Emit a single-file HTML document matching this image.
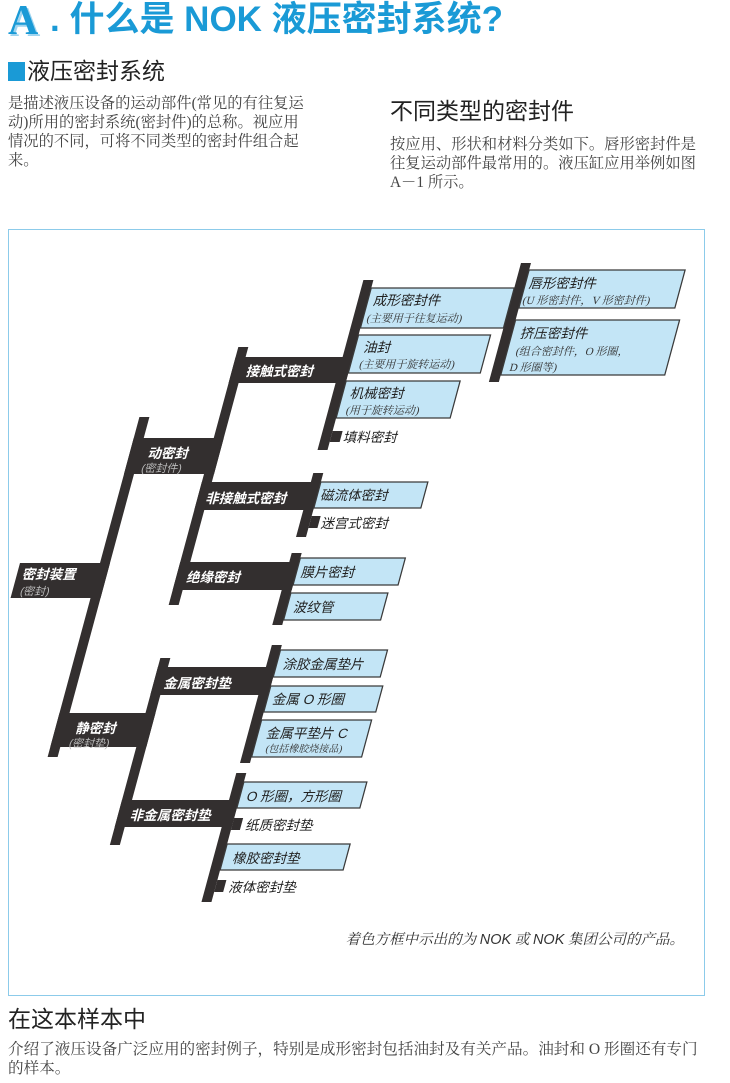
<!DOCTYPE html>
<html><head><meta charset="utf-8"><style>
*{margin:0;padding:0}
body{width:730px;height:1083px;background:#fff;position:relative;overflow:hidden;font-family:"Liberation Sans","Noto Sans CJK SC",sans-serif;color:#333}
.a{position:absolute;white-space:nowrap}
.serif{font-family:"Liberation Serif","Noto Serif CJK SC",serif;color:#444}
</style></head><body>
<div class="a" style="left:8px;top:0px;font-family:'Liberation Serif',serif;font-weight:bold;font-size:42px;color:#1a9ad6;text-shadow:2px 2px 0 #9fd4ef;line-height:42px">A</div>
<div class="a" style="left:50px;top:1px;font-weight:bold;font-size:35px;color:#1a9ad6;line-height:38px;font-family:'Liberation Sans','Noto Sans CJK SC',sans-serif">. 什么是 NOK 液压密封系统?</div>
<div class="a" style="left:8px;top:62px;width:17px;height:19px;background:#1a9ad6"></div>
<div class="a" style="left:27px;top:58px;font-size:23px;line-height:27px;color:#222">液压密封系统</div>
<div class="a serif" style="left:8px;top:94px;font-size:15.3px;line-height:19px">是描述液压设备的运动部件(常见的有往复运<br>动)所用的密封系统(密封件)的总称。视应用<br>情况的不同，可将不同类型的密封件组合起<br>来。</div>
<div class="a" style="left:390px;top:98px;font-size:23px;line-height:27px;color:#222">不同类型的密封件</div>
<div class="a serif" style="left:390px;top:135px;font-size:15.3px;line-height:19px">按应用、形状和材料分类如下。唇形密封件是<br>往复运动部件最常用的。液压缸应用举例如图<br>A－1 所示。</div>
<div class="a" style="left:8px;top:229px;width:695px;height:765px;border:1.5px solid #8ccbea"></div>
<svg class="a" style="left:0;top:0" width="730" height="1083">
<g transform="matrix(1,0,-0.27,1,162,0)" font-family="Liberation Sans,Noto Sans CJK SC,sans-serif">
<g fill="#332f2f">
<rect x="90" y="417" width="10" height="340"/>
<rect x="10" y="563" width="90" height="35"/>
<rect x="170" y="347" width="10" height="258"/>
<rect x="90" y="438" width="90" height="36"/>
<rect x="176" y="658" width="10" height="187"/>
<rect x="90" y="713" width="96" height="34"/>
<rect x="277" y="280" width="10" height="170"/>
<rect x="170" y="357" width="117" height="26"/>
<rect x="279" y="473" width="10" height="64"/>
<rect x="170" y="482" width="119" height="28"/>
<rect x="279" y="553" width="10" height="72"/>
<rect x="170" y="562" width="119" height="28"/>
<rect x="284" y="645" width="10" height="118"/>
<rect x="176" y="667" width="118" height="28"/>
<rect x="283" y="773" width="10" height="129"/>
<rect x="176" y="800" width="117" height="27"/>
<rect x="430" y="263" width="10" height="119"/>
<rect x="287" y="431" width="10" height="11"/>
<rect x="289" y="516" width="9" height="12"/>
<rect x="293" y="818" width="9" height="12"/>
<rect x="293" y="880" width="9" height="12"/>
</g>
<g fill="#c3e5f6" stroke="#3a3a3a" stroke-width="1.3">
<rect x="287" y="288" width="143" height="40"/>
<rect x="287" y="335" width="132" height="38"/>
<rect x="287" y="381" width="114" height="37"/>
<rect x="440" y="270" width="156" height="38"/>
<rect x="440" y="320" width="164" height="55"/>
<rect x="289" y="482" width="107" height="26"/>
<rect x="289" y="558" width="105" height="27"/>
<rect x="289" y="593" width="97" height="27"/>
<rect x="294" y="650" width="107" height="27"/>
<rect x="294" y="686" width="112" height="26"/>
<rect x="294" y="720" width="110" height="37"/>
<rect x="293" y="782" width="123" height="26"/>
<rect x="293" y="844" width="123" height="26"/>
</g>
<g fill="#fff" font-weight="bold" font-size="13.5">
<text x="16" y="579">密封装置</text>
<text x="109" y="458">动密封</text>
<text x="111" y="733">静密封</text>
<text x="185" y="376">接触式密封</text>
<text x="179" y="503">非接触式密封</text>
<text x="181" y="582">绝缘密封</text>
<text x="187" y="688">金属密封垫</text>
<text x="189" y="820">非金属密封垫</text>
</g>
<g fill="#bbb" font-size="11">
<text x="18" y="595">(密封)</text>
<text x="106" y="472">(密封件)</text>
<text x="108" y="747">(密封垫)</text>
</g>
<g fill="#222" font-size="13.5">
<text x="293" y="305">成形密封件</text>
<text x="296" y="352">油封</text>
<text x="295" y="398">机械密封</text>
<text x="444" y="288">唇形密封件</text>
<text x="449" y="338">挤压密封件</text>
<text x="293" y="500">磁流体密封</text>
<text x="294" y="577">膜片密封</text>
<text x="296" y="612">波纹管</text>
<text x="301" y="669">涂胶金属垫片</text>
<text x="300" y="704">金属 O 形圈</text>
<text x="303" y="738">金属平垫片 C</text>
<text x="300" y="801">O 形圈，方形圈</text>
<text x="303" y="863">橡胶密封垫</text>
<text x="300" y="442">填料密封</text>
<text x="301" y="528">迷宫式密封</text>
<text x="307" y="830">纸质密封垫</text>
<text x="307" y="892">液体密封垫</text>
</g>
<g fill="#333" font-size="11" font-family="Liberation Serif,Noto Serif CJK SC,serif">
<text x="291" y="322">(主要用于往复运动)</text>
<text x="296" y="368">(主要用于旋转运动)</text>
<text x="295" y="414">(用于旋转运动)</text>
<text x="442" y="304">(U 形密封件，V 形密封件)</text>
<text x="449" y="355">(组合密封件，O 形圈，</text>
<text x="447" y="371">D 形圈等)</text>
<text x="306" y="752" font-size="10">(包括橡胶烧接品)</text>
</g>
</g>
</svg>
<div class="a serif" style="right:46px;top:928px;font-size:14.5px;font-style:italic;color:#333">着色方框中示出的为 <span style="font-family:'Liberation Sans',sans-serif">NOK</span> 或 <span style="font-family:'Liberation Sans',sans-serif">NOK</span> 集团公司的产品。</div>
<div class="a" style="left:8px;top:1006px;font-size:23px;line-height:27px;color:#222">在这本样本中</div>
<div class="a serif" style="left:8px;top:1040px;font-size:15.6px;line-height:19px">介绍了液压设备广泛应用的密封例子，特别是成形密封包括油封及有关产品。油封和 O 形圈还有专门<br>的样本。</div>
</body></html>
